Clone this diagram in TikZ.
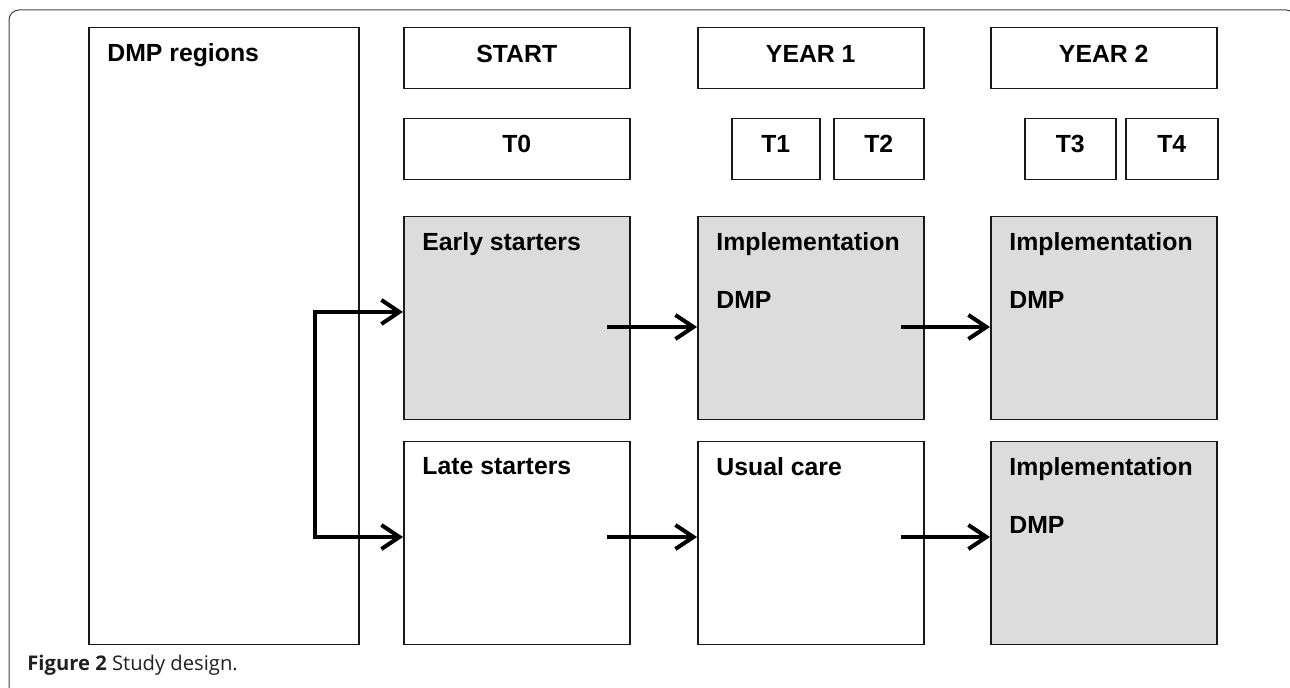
\documentclass[tikz,border=0pt]{standalone}
\usepackage{fontspec}
\setmainfont{Liberation Sans}
\newfontfamily\capfont{Open Sans}
\usetikzlibrary{arrows.meta}
\definecolor{boxgray}{RGB}{220,220,220}
\definecolor{capgray}{RGB}{35,31,32}
\begin{document}
\begin{tikzpicture}
  [x=0.5pt,y=-0.5pt,
   every node/.style={font=\bfseries\fontsize{12.4pt}{29pt}\selectfont},
   box/.style={draw=black!90,line width=0.75pt,anchor=north west,inner sep=0pt},
   head/.style={box,minimum width=113pt,minimum height=30.5pt,text height=9pt,text depth=5pt},
   tbox/.style={box,minimum height=30.5pt,text height=9pt,text depth=6pt},
   cell/.style={box,minimum width=113pt,minimum height=101.5pt},
   grey/.style={cell,fill=boxgray},
   lbl/.style={anchor=north west,inner sep=0pt,align=left},
   barb/.tip={Straight Barb[length=9pt,width=12pt]},
   arr/.style={line width=2pt,-barb}]
 \useasboundingbox (0,0) rectangle (1290,688);
 \draw[capgray!85,line width=0.5pt,rounded corners=5pt] (9,10) rectangle (1296,697);

 \node (dmp)[box,minimum width=135pt,minimum height=308.5pt] at (88,27) {};
 \node (start)[head] at (403,27) {START};
 \node (year1)[head] at (697,27) {YEAR 1};
 \node (year2)[head] at (990,27) {YEAR 2};
 \node (t0)[tbox,minimum width=113pt] at (403,118) {T0};
 \node (t1)[tbox,minimum width=44pt] at (731,118) {T1};
 \node (t2)[tbox,minimum width=45pt] at (833,118) {T2};
 \node (t3)[tbox,minimum width=45.5pt] at (1024,118) {T3};
 \node (t4)[tbox,minimum width=46pt] at (1125,118) {T4};

 \node (early)[grey] at (403,216) {};
 \node (impl1)[grey] at (697,216) {};
 \node (impl2)[grey] at (990,216) {};
 \node (late)[cell] at (403,441) {};
 \node (usual)[cell] at (697,441) {};
 \node (impl3)[grey] at (990,441) {};

 \node (dmpt)[lbl] at ([shift={(19,16)}]dmp.north west) {DMP regions};
 \node (earlyt)[lbl] at ([shift={(19,16)}]early.north west) {Early starters};
 \node (latet)[lbl] at ([shift={(19,16)}]late.north west) {Late starters};
 \node (usualt)[lbl] at ([shift={(19,16)}]usual.north west) {Usual care};
 \foreach \n in {impl1,impl2,impl3}
   \node (\n t)[lbl] at ([shift={(19,16)}]\n.north west) {Implementation\\DMP};

 \coordinate (top) at (315,312);
 \coordinate (bot) at (315,537);
 \draw[arr,barb-barb,line join=miter]
   (early.west |- top) -- (top) -- (bot) -- (late.west |- bot);

 \coordinate (a1) at (607,327);
 \coordinate (a2) at (901,327);
 \coordinate (a3) at (607,537);
 \coordinate (a4) at (901,537);
 \foreach \from/\to in {a1/impl1,a2/impl2,a3/usual,a4/impl3}
    \draw[arr] (\from) -- (\from -| \to.west);

 \node (cap)[anchor=base west,inner sep=0pt,text=capgray,font=\capfont\fontsize{10.1pt}{12pt}\selectfont]
   at (27,671) {\textbf{Figure 2} Study design.};
\end{tikzpicture}
\end{document}
